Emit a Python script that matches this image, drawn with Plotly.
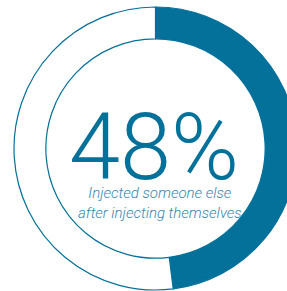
import plotly.graph_objects as go

labels = ["Injected someone else", "Did not"]
values = [48, 52]
big_text = "48%"
subtitle = "Injected someone else<br>after injecting themselves"

BLUE = "#04719b"

fig = go.Figure()
fig.add_trace(go.Pie(
    labels=labels,
    values=values,
    hole=0.775,
    sort=False,
    direction="clockwise",
    rotation=0,
    textinfo="none",
    hoverinfo="none",
    showlegend=False,
    marker=dict(colors=[BLUE, "#ffffff"], line=dict(color=BLUE, width=1.2)),
    domain=dict(x=[0, 1], y=[0, 1]),
))

fig.add_annotation(text=big_text, x=0.495, y=0.505, xref="paper", yref="paper",
                   showarrow=False, xanchor="center", yanchor="middle",
                   font=dict(family="Roboto", size=92, color=BLUE, weight=300))
fig.add_annotation(text=subtitle, x=0.516, y=0.307, xref="paper", yref="paper",
                   showarrow=False, xanchor="center", yanchor="middle",
                   font=dict(family="Roboto", size=15, color="#3587b0", style="italic", weight=300))

fig.update_layout(width=297, height=291, margin=dict(l=14, r=0, t=7, b=1),
                  paper_bgcolor="white", plot_bgcolor="white")

fig.write_html("out.html", config={"displayModeBar": False},
               post_script="document.body.style.margin='0';document.body.style.overflow='hidden';document.documentElement.style.overflow='hidden';")
